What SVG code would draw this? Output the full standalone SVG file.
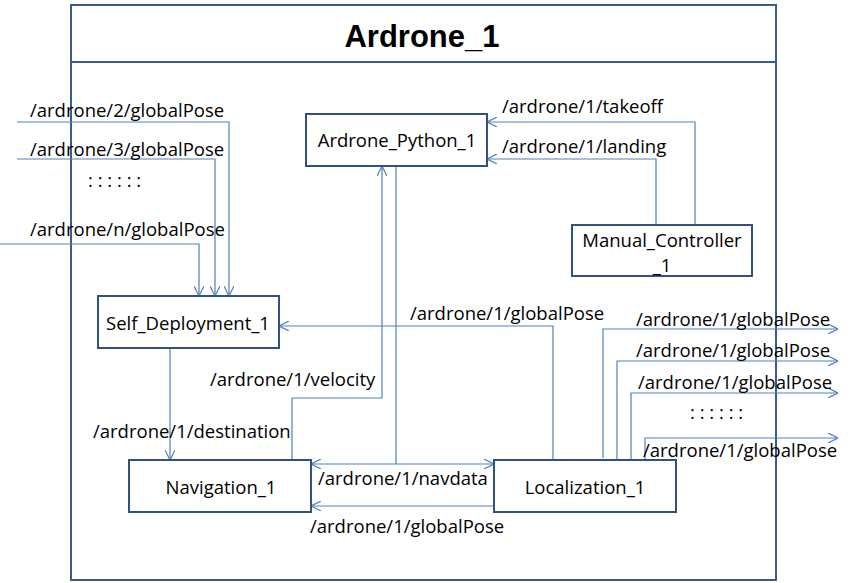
<svg xmlns="http://www.w3.org/2000/svg" width="850" height="583" viewBox="0 0 850 583">
<style>
.frame{fill:#fff;stroke:#385d8a;stroke-width:2}
.box{fill:#fff;stroke:#2f5280;stroke-width:2}
.c{fill:none;stroke:#4f81bd;stroke-width:1.2}
.t{font-family:"Open Sans","Liberation Sans",sans-serif;font-size:18.5px;fill:#000}
.m{text-anchor:middle}
.title{font-family:"Liberation Sans",Arial,sans-serif;font-size:31px;font-weight:bold;text-anchor:middle;fill:#000}
</style>
<defs>
<marker id="a" viewBox="0 0 10 10" refX="10" refY="5" markerWidth="10" markerHeight="10" markerUnits="userSpaceOnUse" orient="auto-start-reverse">
<path d="M0,0 L10,5 L0,10" fill="none" stroke="#4f81bd" stroke-width="1.2"/>
</marker>
</defs>
<rect width="850" height="583" fill="#fff"/>
<g id="frame">
<rect class="frame" x="71" y="5" width="705" height="575"/>
<line x1="71" y1="62" x2="776" y2="62" stroke="#385d8a" stroke-width="2"/>
<text class="title" x="422" y="47">Ardrone_1</text>
</g>
<g id="connectors">
<polyline class="c" points="17,122 229,122 229,296" marker-end="url(#a)"/>
<polyline class="c" points="17,159 215,159 215,296" marker-end="url(#a)"/>
<polyline class="c" points="0,244 199,244 199,296" marker-end="url(#a)"/>
<polyline class="c" points="695,225 695,122 487,122" marker-end="url(#a)"/>
<polyline class="c" points="656,225 656,159 487,159" marker-end="url(#a)"/>
<polyline class="c" points="292,460 292,398 382,398 382,166" marker-end="url(#a)"/>
<polyline class="c" points="396,166 396,464"/>
<line class="c" x1="311" y1="464" x2="494" y2="464" marker-start="url(#a)" marker-end="url(#a)"/>
<line class="c" x1="494" y1="506" x2="311" y2="506" marker-end="url(#a)"/>
<polyline class="c" points="553,460 553,326 279,326" marker-end="url(#a)"/>
<line class="c" x1="170" y1="348" x2="170" y2="460" marker-end="url(#a)"/>
<polyline class="c" points="603,458 603,329 838,329" marker-end="url(#a)"/>
<polyline class="c" points="617,472 617,361 838,361" marker-end="url(#a)"/>
<polyline class="c" points="631,472 631,393 838,393" marker-end="url(#a)"/>
<polyline class="c" points="645,472 645,438 838,438" marker-end="url(#a)"/>
<text class="t" x="30" y="117">/ardrone/2/globalPose</text>
<text class="t" x="30" y="156">/ardrone/3/globalPose</text>
<text class="t" x="88" y="187">: : : : : :</text>
<text class="t" x="30" y="236">/ardrone/n/globalPose</text>
<text class="t" x="502" y="113">/ardrone/1/takeoff</text>
<text class="t" x="502" y="153">/ardrone/1/landing</text>
<text class="t" x="410" y="320">/ardrone/1/globalPose</text>
<text class="t" x="210" y="386">/ardrone/1/velocity</text>
<text class="t" x="93" y="438">/ardrone/1/destination</text>
<text class="t" x="318" y="485">/ardrone/1/navdata</text>
<text class="t" x="310" y="533">/ardrone/1/globalPose</text>
<text class="t" x="636" y="326">/ardrone/1/globalPose</text>
<text class="t" x="636" y="357">/ardrone/1/globalPose</text>
<text class="t" x="638" y="389">/ardrone/1/globalPose</text>
<text class="t" x="690" y="419">: : : : : :</text>
<text class="t" x="643" y="457">/ardrone/1/globalPose</text>
</g>
<g id="ardrone_python">
<rect class="box" x="306" y="114" width="181" height="52"/>
<text class="t m" x="397" y="147">Ardrone_Python_1</text>
</g>
<g id="manual_controller">
<rect class="box" x="572" y="225" width="180" height="51"/>
<text class="t m" x="662" y="247">Manual_Controller</text>
<text class="t m" x="662" y="272">_1</text>
</g>
<g id="self_deployment">
<rect class="box" x="98" y="296" width="181" height="52"/>
<text class="t m" x="188" y="330">Self_Deployment_1</text>
</g>
<g id="navigation">
<rect class="box" x="129" y="460" width="182" height="52"/>
<text class="t m" x="221" y="494">Navigation_1</text>
</g>
<g id="localization">
<rect class="box" x="494" y="460" width="182" height="52"/>
<text class="t m" x="585" y="494">Localization_1</text>
</g>
</svg>
